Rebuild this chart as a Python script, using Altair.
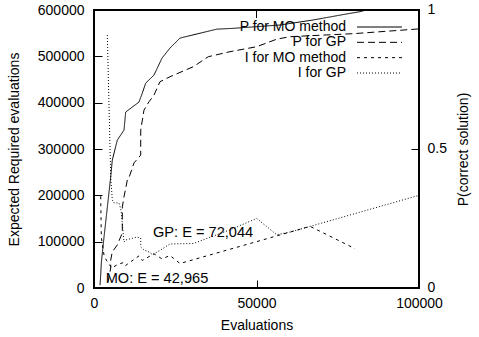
import altair as alt
import pandas as pd

FONT = "Liberation Sans"

# ---- data ----
series = ["P for MO method", "P for GP", "I for MO method", "I for GP"]
dashes = [[1, 0], [7, 4], [3, 4], [1, 2]]

p_mo_x = [1850, 2060, 2250, 3080, 3910, 5140, 5630, 7170, 9230, 9750, 13850, 14860, 15910,
          18460, 20920, 23380, 26460, 37750, 42770, 57230, 67380, 77850, 81850, 83700, 100000]
p_mo_y = [0.01, 0.047, 0.090, 0.183, 0.270, 0.399, 0.460, 0.532, 0.568, 0.633, 0.669, 0.701, 0.737,
          0.766, 0.827, 0.863, 0.899, 0.931, 0.934, 0.946, 0.964, 0.986, 0.994, 1.0, 1.0]

p_gp_x = [4300, 5140, 5150, 5630, 7170, 8710, 8720, 9230, 10250, 10770, 12310, 14370, 14380,
          15380, 16930, 18460, 20300, 23380, 30560, 35170, 41850, 50060, 56210, 60310, 80000, 100000]
p_gp_y = [0.02, 0.072, 0.101, 0.130, 0.155, 0.198, 0.292, 0.328, 0.388, 0.397, 0.450, 0.478, 0.568,
          0.640, 0.670, 0.694, 0.742, 0.760, 0.796, 0.832, 0.850, 0.868, 0.895, 0.904, 0.915, 0.932]

i_mo_x = [2060, 2250, 3080, 3910, 5140, 5370, 7170, 9230, 9750, 13850, 14860, 15910, 18460,
          20920, 23380, 26460, 37750, 42770, 57230, 66500, 80300]
i_mo_y = [198000, 110000, 70800, 58700, 46300, 42965, 50200, 55400, 48800, 69300, 59400, 63600, 73800,
          62800, 70100, 52900, 75500, 85500, 114500, 133000, 85000]

i_gp_x = [4100, 5140, 5630, 6150, 7690, 8310, 9230, 9750, 13230, 14370, 14400, 15380, 16930,
          18011, 20300, 23380, 30560, 41850, 50060, 56210, 60310, 100000]
i_gp_y = [546000, 239500, 190000, 183500, 183500, 168300, 99300, 103600, 110000, 107900, 88500, 82000, 77700,
          72044, 81200, 95000, 96000, 125550, 150180, 115000, 120620, 200000]

label_text = ["MO: E = 42,965", "GP: E = 72,044"]
label_x = [3580, 18150]
label_y = [10800, 110000]

x_ticks = [0, 50000, 100000]
left_ticks = [0, 100000, 200000, 300000, 400000, 500000, 600000]
right_ticks = [0, 0.5, 1]


def frame(xs, ys, name):
    return pd.DataFrame({"x": xs, "v": ys, "series": name, "order": range(len(xs))})


p_df = pd.concat([frame(p_mo_x, p_mo_y, series[0]), frame(p_gp_x, p_gp_y, series[1])])
i_df = pd.concat([frame(i_mo_x, i_mo_y, series[2]), frame(i_gp_x, i_gp_y, series[3])])
leg_df = pd.DataFrame({"series": series, "row": list(range(len(series)))})
lab_df = pd.DataFrame({"label": label_text, "lx": label_x, "ly": label_y})
xt_df = pd.DataFrame({"x": x_ticks})

x_scale = alt.Scale(domain=[0, 100000], nice=False)
x_axis = alt.Axis(values=x_ticks, format="d", title="Evaluations", offset=-8, tickSize=8,
                  labelPadding=8, domain=False, grid=False, titlePadding=8, labelFlush=False,
                  labelOverlap=False)
x_enc = alt.X("x:Q", scale=x_scale, axis=x_axis)
left_scale = alt.Scale(domain=[0, 600000], nice=False)
dash_enc = alt.StrokeDash("series:N", scale=alt.Scale(domain=series, range=dashes), legend=None)

i_layer = alt.Chart(i_df).mark_line(color="black", strokeWidth=1, clip=True).encode(
    x=x_enc,
    y=alt.Y("v:Q", scale=left_scale,
            axis=alt.Axis(orient="left", values=left_ticks, format="d",
                          title="Expected Required evaluations", offset=-8, tickSize=8,
                          labelPadding=10, domain=False, grid=False, titlePadding=16,
                          labelFlush=False, labelOverlap=False)),
    strokeDash=dash_enc,
    detail="series:N",
    order="order:Q",
)

p_layer = alt.Chart(p_df).mark_line(color="black", strokeWidth=1, clip=True).encode(
    x=x_enc,
    y=alt.Y("v:Q", scale=alt.Scale(domain=[0, 1], nice=False),
            axis=alt.Axis(orient="right", values=right_ticks, format="~g",
                          title="P(correct solution)", titleAngle=270, offset=-8, tickSize=8,
                          labelPadding=8, labelOffset=-1, domain=False, grid=False,
                          titlePadding=24, labelFlush=False, labelOverlap=False)),
    strokeDash=dash_enc,
    detail="series:N",
    order="order:Q",
)

top_ticks = alt.Chart(xt_df).mark_rule(color="black", strokeWidth=1).encode(
    x=x_enc, y=alt.value(0), y2=alt.value(8)
)

lab_layer = alt.Chart(lab_df).mark_text(align="left", baseline="alphabetic", font=FONT,
                                        fontSize=14.6, color="black").encode(
    x=alt.X("lx:Q", scale=x_scale, axis=x_axis),
    y=alt.Y("ly:Q", scale=left_scale, axis=None),
    text="label:N",
)

leg_y = alt.Y("row:Q", scale=alt.Scale(domain=[0, 3], range=[17, 63]), axis=None)
leg_rules = alt.Chart(leg_df).mark_rule(color="black", strokeWidth=1).encode(
    x=alt.value(263), x2=alt.value(308), y=leg_y, strokeDash=dash_enc
)
leg_text = alt.Chart(leg_df).mark_text(align="right", baseline="middle", font=FONT,
                                       fontSize=14, color="black").encode(
    x=alt.value(252), y=leg_y, text="series:N"
)

chart = alt.layer(i_layer, p_layer, top_ticks, lab_layer, leg_rules, leg_text).resolve_scale(
    y="independent"
).properties(
    width=325, height=278,
    autosize=alt.AutoSizeParams(type="none"),
    padding={"left": 94, "top": 10, "right": 60, "bottom": 49},
    background="white",
).configure_view(
    stroke="black", strokeWidth=2
).configure_axis(
    labelFont=FONT, titleFont=FONT, labelFontSize=14, titleFontSize=14,
    titleFontWeight="normal", labelColor="black", titleColor="black",
    tickColor="black", tickWidth=1
)

chart.save("out.html", embed_options={"renderer": "svg", "actions": False})
